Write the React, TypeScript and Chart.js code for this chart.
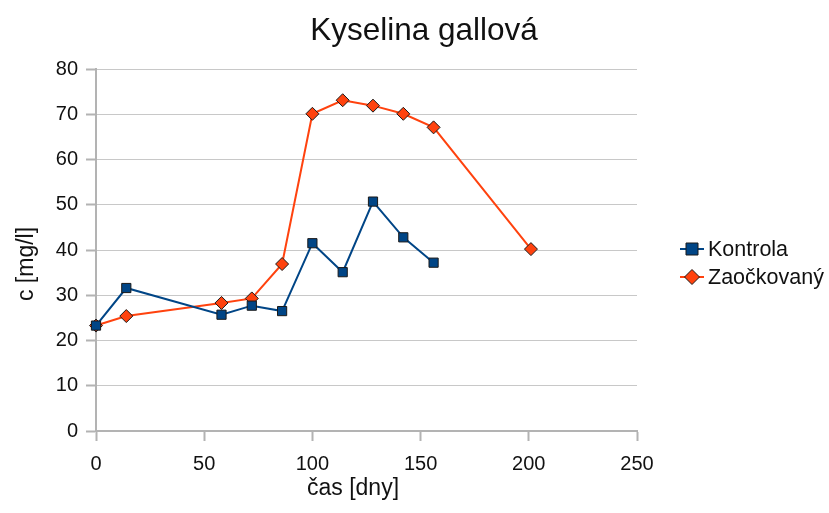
import React, { useEffect, useRef } from "react";
import { Chart, registerables } from "chart.js";

Chart.register(...registerables);

// Sampling days and measured concentrations (mg/l)
const kontrolaDays = [0, 14, 58, 72, 86, 100, 114, 128, 142, 156];
const kontrolaValues = [23.3, 31.6, 25.7, 27.7, 26.5, 41.5, 35.1, 50.7, 42.8, 37.2];

const zaockovanyDays = [0, 14, 58, 72, 86, 100, 114, 128, 142, 156, 201];
const zaockovanyValues = [23.3, 25.4, 28.3, 29.3, 36.9, 70.1, 73.1, 71.9, 70.1, 67.1, 40.2];

const seriesNames = ["Kontrola", "Zaočkovaný"];
const chartTitle = "Kyselina gallová";
const xTitle = "čas [dny]";
const yTitle = "c [mg/l]";

const FONT = "'Liberation Sans', Arial, sans-serif";
const TEXT = "#111";

const toPoints = (xs: number[], ys: number[]) => xs.map((x, i) => ({ x, y: ys[i] }));

function legendMarker(ctx: CanvasRenderingContext2D, style: string, x: number, y: number) {
  ctx.beginPath();
  if (style === "rect") {
    ctx.rect(x - 6, y - 6, 12, 12);
  } else {
    const r = 7.5;
    ctx.moveTo(x, y - r);
    ctx.lineTo(x + r, y);
    ctx.lineTo(x, y + r);
    ctx.lineTo(x - r, y);
    ctx.closePath();
  }
  ctx.fill();
  ctx.stroke();
}

// Title, axis titles and the line+marker legend drawn on the canvas
const decorations = {
  id: "decorations",
  afterDraw(chart: any) {
    const ctx = chart.ctx as CanvasRenderingContext2D;
    ctx.save();
    ctx.fillStyle = TEXT;

    ctx.font = `31.5px ${FONT}`;
    ctx.textAlign = "center";
    ctx.textBaseline = "alphabetic";
    ctx.fillText(chartTitle, 424, 40);

    ctx.font = `23px ${FONT}`;
    ctx.fillText(xTitle, 353, 495);

    ctx.save();
    ctx.translate(33, 264);
    ctx.rotate(-Math.PI / 2);
    ctx.fillText(yTitle, 0, 0);
    ctx.restore();

    const rows = [249, 277];
    chart.data.datasets.forEach((ds: any, i: number) => {
      const y = rows[i];
      ctx.strokeStyle = ds.borderColor;
      ctx.lineWidth = 2;
      ctx.beginPath();
      ctx.moveTo(680, y);
      ctx.lineTo(704, y);
      ctx.stroke();
      ctx.fillStyle = ds.pointBackgroundColor;
      ctx.strokeStyle = ds.pointBorderColor;
      ctx.lineWidth = 1;
      legendMarker(ctx, ds.pointStyle, 692, y);
      ctx.fillStyle = TEXT;
      ctx.font = `21.5px ${FONT}`;
      ctx.textAlign = "left";
      ctx.textBaseline = "middle";
      ctx.fillText(ds.label, 708, y + 1);
    });
    ctx.restore();
  },
};

export default function App() {
  const ref = useRef<HTMLCanvasElement>(null);

  useEffect(() => {
    if (!ref.current) return;
    const chart = new Chart(ref.current, {
      type: "scatter",
      data: {
        datasets: [
          {
            label: seriesNames[0],
            data: toPoints(kontrolaDays, kontrolaValues),
            showLine: true,
            clip: false,
            borderColor: "#004586",
            borderWidth: 2,
            pointStyle: "rect",
            pointRadius: 6.5,
            pointHoverRadius: 6.5,
            pointBackgroundColor: "#004586",
            pointBorderColor: "#1a1a1a",
            pointBorderWidth: 1,
          },
          {
            label: seriesNames[1],
            data: toPoints(zaockovanyDays, zaockovanyValues),
            showLine: true,
            clip: false,
            borderColor: "#ff420e",
            borderWidth: 2,
            pointStyle: "rectRot",
            pointRadius: 6.5,
            pointHoverRadius: 6.5,
            pointBackgroundColor: "#ff420e",
            pointBorderColor: "#1a1a1a",
            pointBorderWidth: 1,
          },
        ],
      },
      options: {
        animation: false,
        responsive: false,
        events: [],
        layout: { padding: { left: 0, right: 192, top: 69, bottom: 0 } },
        plugins: { legend: { display: false }, title: { display: false }, tooltip: { enabled: false } },
        scales: {
          x: {
            type: "linear",
            min: 0,
            max: 250,
            afterFit: (s: any) => {
              s.height = 82;
            },
            ticks: { stepSize: 50, color: TEXT, font: { family: FONT, size: 20 }, padding: 11 },
            grid: { drawOnChartArea: false, drawTicks: true, tickLength: 10, tickColor: "#b3b3b3", tickWidth: 2 },
            border: { color: "#b3b3b3", width: 2 },
          },
          y: {
            min: 0,
            max: 80,
            afterFit: (s: any) => {
              s.width = 96;
            },
            ticks: { stepSize: 10, color: TEXT, font: { family: FONT, size: 20 }, padding: 8 },
            grid: { color: "#c8c8c8", lineWidth: 1, tickLength: 10, tickColor: "#b3b3b3", tickWidth: 2 },
            border: { color: "#b3b3b3", width: 2 },
          },
        },
      },
      plugins: [decorations],
    });
    return () => chart.destroy();
  }, []);

  return (
    <div style={{ position: "fixed", left: 0, top: 0, width: 829, height: 513, background: "#fff" }}>
      <canvas ref={ref} width={829} height={513} style={{ display: "block" }} />
    </div>
  );
}
